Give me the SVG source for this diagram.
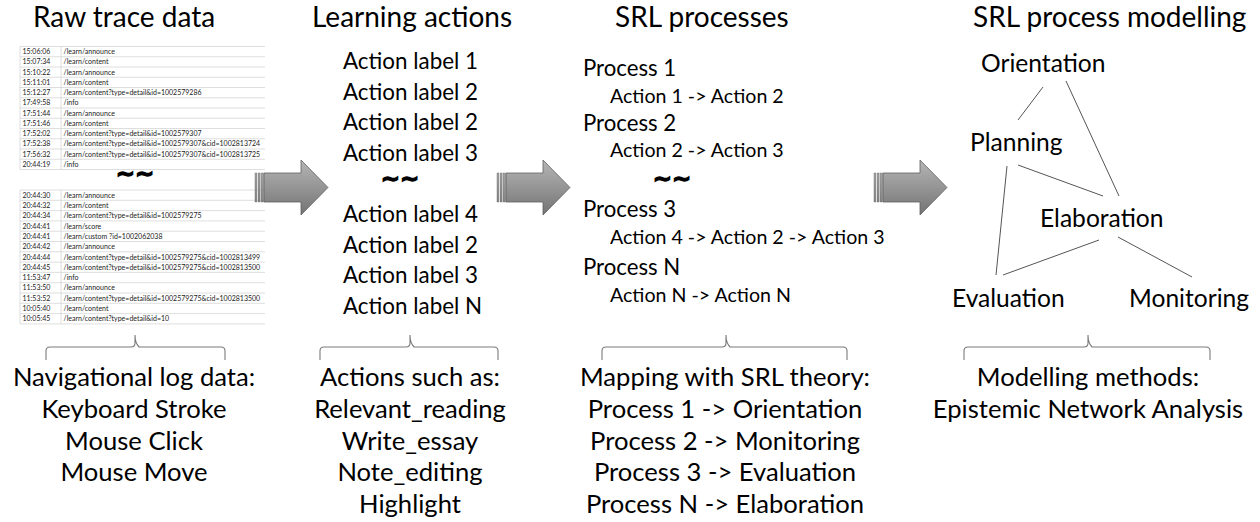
<svg xmlns="http://www.w3.org/2000/svg" xmlns:xlink="http://www.w3.org/1999/xlink" width="1260" height="522" viewBox="0 0 1260 522">
<style>
  text { font-family: Lato, "Open Sans", "Liberation Sans", sans-serif; fill: #000; }
  .title { font-size: 28px; }
  .lbl { font-size: 22.4px; }
  .proc { font-size: 22.2px; }
  .pact { font-size: 19.6px; }
  .net { font-size: 24.6px; }
  .bot { font-size: 25.6px; text-anchor: middle; }
  .tbl { font-size: 7px; fill: #222; }
  .tilde { font-family: "DejaVu Sans", "Liberation Sans", sans-serif; font-size: 23px; font-weight: bold; text-anchor: middle; stroke: #000; stroke-width: 1.3; }
  .grid { stroke: #d6d6d6; stroke-width: 0.8; fill: none; }
  .brace { stroke: #7a7a7a; stroke-width: 1.1; fill: none; }
  .edge { stroke: #555; stroke-width: 1; fill: none; }
</style>
<defs>
  <linearGradient id="ag" gradientUnits="userSpaceOnUse" x1="0" y1="160" x2="0" y2="215">
    <stop offset="0" stop-color="#b5b5b5"/>
    <stop offset="0.5" stop-color="#959595"/>
    <stop offset="1" stop-color="#737373"/>
  </linearGradient>
  <g id="arrow">
    <rect x="0" y="173" width="1.8" height="29" fill="url(#ag)" stroke="#6a6a6a" stroke-width="0.4"/>
    <rect x="3" y="173" width="2" height="29" fill="url(#ag)" stroke="#6a6a6a" stroke-width="0.4"/>
    <rect x="6" y="173" width="2.4" height="29" fill="url(#ag)" stroke="#6a6a6a" stroke-width="0.4"/>
    <path d="M9,173 H46 V160 L73,187.5 L46,215 V202 H9 Z" fill="url(#ag)" stroke="#5f5f5f" stroke-width="0.8"/>
  </g>
</defs>
<rect width="1260" height="522" fill="#fff"/>

<!-- Titles -->
<g id="titles">
  <text class="title" x="33" y="27">Raw trace data</text>
  <text class="title" x="312" y="27">Learning actions</text>
  <text class="title" x="615" y="27">SRL processes</text>
  <text class="title" x="973" y="27">SRL process modelling</text>
</g>

<!-- Raw trace table 1 -->
<g id="table1">
  <path class="grid" d="M20,46.5 H265 M20,56.75 H265 M20,67 H265 M20,77.25 H265 M20,87.5 H265 M20,97.75 H265 M20,108 H265 M20,118.25 H265 M20,128.5 H265 M20,138.75 H265 M20,149 H265 M20,159.25 H265 M20,169.5 H265 M20,46.5 V169.5 M61,46.5 V169.5"/>
  <text class="tbl" x="22.5" y="54.2">15:06:06</text><text class="tbl" x="63.5" y="54.2">/learn/announce</text>
  <text class="tbl" x="22.5" y="64.4">15:07:34</text><text class="tbl" x="63.5" y="64.4">/learn/content</text>
  <text class="tbl" x="22.5" y="74.7">15:10:22</text><text class="tbl" x="63.5" y="74.7">/learn/announce</text>
  <text class="tbl" x="22.5" y="84.9">15:11:01</text><text class="tbl" x="63.5" y="84.9">/learn/content</text>
  <text class="tbl" x="22.5" y="95.2">15:12:27</text><text class="tbl" x="63.5" y="95.2">/learn/content?type=detail&amp;id=1002579286</text>
  <text class="tbl" x="22.5" y="105.4">17:49:58</text><text class="tbl" x="63.5" y="105.4">/info</text>
  <text class="tbl" x="22.5" y="115.7">17:51:44</text><text class="tbl" x="63.5" y="115.7">/learn/announce</text>
  <text class="tbl" x="22.5" y="125.9">17:51:46</text><text class="tbl" x="63.5" y="125.9">/learn/content</text>
  <text class="tbl" x="22.5" y="136.2">17:52:02</text><text class="tbl" x="63.5" y="136.2">/learn/content?type=detail&amp;id=1002579307</text>
  <text class="tbl" x="22.5" y="146.4">17:52:38</text><text class="tbl" x="63.5" y="146.4">/learn/content?type=detail&amp;id=1002579307&amp;cid=1002813724</text>
  <text class="tbl" x="22.5" y="156.7">17:56:32</text><text class="tbl" x="63.5" y="156.7">/learn/content?type=detail&amp;id=1002579307&amp;cid=1002813725</text>
  <text class="tbl" x="22.5" y="166.9">20:44:19</text><text class="tbl" x="63.5" y="166.9">/info</text>
</g>
<text class="tilde" x="135" y="181">~~</text>

<!-- Raw trace table 2 -->
<g id="table2">
  <path class="grid" d="M20,190 H265 M20,200.3 H265 M20,210.6 H265 M20,220.9 H265 M20,231.2 H265 M20,241.5 H265 M20,251.8 H265 M20,262.1 H265 M20,272.4 H265 M20,282.7 H265 M20,293 H265 M20,303.3 H265 M20,313.6 H265 M20,323.9 H265 M20,190 V323.9 M61,190 V323.9"/>
  <text class="tbl" x="22.5" y="197.7">20:44:30</text><text class="tbl" x="63.5" y="197.7">/learn/announce</text>
  <text class="tbl" x="22.5" y="208">20:44:32</text><text class="tbl" x="63.5" y="208">/learn/content</text>
  <text class="tbl" x="22.5" y="218.3">20:44:34</text><text class="tbl" x="63.5" y="218.3">/learn/content?type=detail&amp;id=1002579275</text>
  <text class="tbl" x="22.5" y="228.6">20:44:41</text><text class="tbl" x="63.5" y="228.6">/learn/score</text>
  <text class="tbl" x="22.5" y="238.9">20:44:41</text><text class="tbl" x="63.5" y="238.9">/learn/custom ?id=1002062038</text>
  <text class="tbl" x="22.5" y="249.2">20:44:42</text><text class="tbl" x="63.5" y="249.2">/learn/announce</text>
  <text class="tbl" x="22.5" y="259.5">20:44:44</text><text class="tbl" x="63.5" y="259.5">/learn/content?type=detail&amp;id=1002579275&amp;cid=1002813499</text>
  <text class="tbl" x="22.5" y="269.8">20:44:45</text><text class="tbl" x="63.5" y="269.8">/learn/content?type=detail&amp;id=1002579275&amp;cid=1002813500</text>
  <text class="tbl" x="22.5" y="280.1">11:53:47</text><text class="tbl" x="63.5" y="280.1">/info</text>
  <text class="tbl" x="22.5" y="290.4">11:53:50</text><text class="tbl" x="63.5" y="290.4">/learn/announce</text>
  <text class="tbl" x="22.5" y="300.7">11:53:52</text><text class="tbl" x="63.5" y="300.7">/learn/content?type=detail&amp;id=1002579275&amp;cid=1002813500</text>
  <text class="tbl" x="22.5" y="311">10:05:40</text><text class="tbl" x="63.5" y="311">/learn/content</text>
  <text class="tbl" x="22.5" y="321.3">10:05:45</text><text class="tbl" x="63.5" y="321.3">/learn/content?type=detail&amp;id=10</text>
</g>

<!-- Big arrows -->
<g id="arrows">
  <use xlink:href="#arrow" href="#arrow" x="255" y="0"/>
  <use xlink:href="#arrow" href="#arrow" x="497" y="0"/>
  <use xlink:href="#arrow" href="#arrow" x="874" y="0"/>
</g>

<!-- Learning actions -->
<g id="actions">
  <text class="lbl" x="343" y="69">Action label 1</text>
  <text class="lbl" x="343" y="99.5">Action label 2</text>
  <text class="lbl" x="343" y="130">Action label 2</text>
  <text class="lbl" x="343" y="160.5">Action label 3</text>
  <text class="tilde" x="400" y="185.5">~~</text>
  <text class="lbl" x="343" y="222">Action label 4</text>
  <text class="lbl" x="343" y="252.5">Action label 2</text>
  <text class="lbl" x="343" y="283">Action label 3</text>
  <text class="lbl" x="343" y="313.5">Action label N</text>
</g>

<!-- SRL processes -->
<g id="processes">
  <text class="proc" x="583" y="76">Process 1</text>
  <text class="pact" x="610" y="103">Action 1 -&gt; Action 2</text>
  <text class="proc" x="583" y="131">Process 2</text>
  <text class="pact" x="610" y="157">Action 2 -&gt; Action 3</text>
  <text class="tilde" x="672" y="185.5">~~</text>
  <text class="proc" x="583" y="217">Process 3</text>
  <text class="pact" x="610" y="244">Action 4 -&gt; Action 2 -&gt; Action 3</text>
  <text class="proc" x="583" y="275">Process N</text>
  <text class="pact" x="610" y="302">Action N -&gt; Action N</text>
</g>

<!-- Network connectors -->
<g id="connectors">
  <line class="edge" x1="1043" y1="87" x2="1018" y2="120"/>
  <line class="edge" x1="1066" y1="81" x2="1119" y2="196"/>
  <line class="edge" x1="1018" y1="165" x2="1103" y2="196"/>
  <line class="edge" x1="1007" y1="166" x2="996" y2="275"/>
  <line class="edge" x1="1099" y1="240" x2="1003" y2="275"/>
  <line class="edge" x1="1118" y1="237" x2="1192" y2="277"/>
</g>

<!-- Network nodes -->
<g id="node-orientation"><text class="net" x="981" y="72">Orientation</text></g>
<g id="node-planning"><text class="net" x="970" y="151">Planning</text></g>
<g id="node-elaboration"><text class="net" x="1040" y="227">Elaboration</text></g>
<g id="node-evaluation"><text class="net" x="952" y="307">Evaluation</text></g>
<g id="node-monitoring"><text class="net" x="1129" y="307">Monitoring</text></g>

<!-- Braces -->
<g id="braces">
  <path class="brace" d="M46,360 V351 Q46,347 50,347 H131 Q135,347 135,343 V335 Q135,343 139,347 H221 Q225,347 225,351 V360"/>
  <path class="brace" d="M320,360 V351 Q320,347 324,347 H406 Q410,347 410,343 V335 Q410,343 414,347 H494 Q498,347 498,351 V360"/>
  <path class="brace" d="M602,360 V351 Q602,347 606,347 H722 Q726,347 726,343 V335 Q726,343 730,347 H843 Q847,347 847,351 V360"/>
  <path class="brace" d="M964,360 V351 Q964,347 968,347 H1084 Q1088,347 1088,343 V335 Q1088,343 1092,347 H1206 Q1210,347 1210,351 V360"/>
</g>

<!-- Bottom descriptions -->
<g id="desc1">
  <text class="bot" x="134" y="386">Navigational log data:</text>
  <text class="bot" x="134" y="418">Keyboard Stroke</text>
  <text class="bot" x="134" y="450">Mouse Click</text>
  <text class="bot" x="134" y="481">Mouse Move</text>
</g>
<g id="desc2">
  <text class="bot" x="410" y="386">Actions such as:</text>
  <text class="bot" x="410" y="418">Relevant_reading</text>
  <text class="bot" x="410" y="450">Write_essay</text>
  <text class="bot" x="410" y="481">Note_editing</text>
  <text class="bot" x="410" y="513">Highlight</text>
</g>
<g id="desc3">
  <text class="bot" x="725" y="386">Mapping with SRL theory:</text>
  <text class="bot" x="725" y="418">Process 1 -&gt; Orientation</text>
  <text class="bot" x="725" y="450">Process 2 -&gt; Monitoring</text>
  <text class="bot" x="725" y="481">Process 3 -&gt; Evaluation</text>
  <text class="bot" x="725" y="513">Process N -&gt; Elaboration</text>
</g>
<g id="desc4">
  <text class="bot" x="1088" y="386">Modelling methods:</text>
  <text class="bot" x="1088" y="418">Epistemic Network Analysis</text>
</g>
</svg>
